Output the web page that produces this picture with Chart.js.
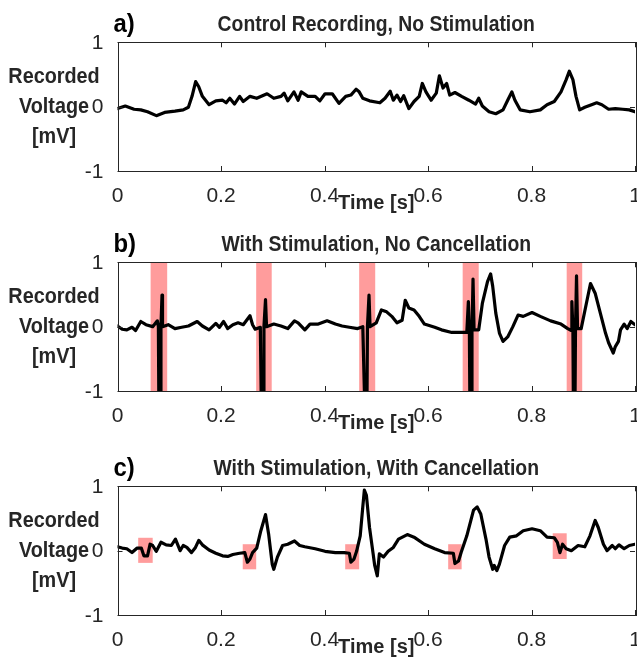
<!DOCTYPE html>
<html lang="en">
<head>
    <meta charset="UTF-8">
    <title>Stimulation artifact cancellation</title>
    <script src="https://cdn.jsdelivr.net/npm/chart.js"></script>
    <style>
        body { margin: 0; background: #fff; }
        .panel { position: absolute; left: 0; width: 637px; height: 220px; }
    </style>
</head>
<body>
    <div class="panel" style="top:0px"><canvas id="chartA"></canvas></div>
    <div class="panel" style="top:220px"><canvas id="chartB"></canvas></div>
    <div class="panel" style="top:443.7px"><canvas id="chartC"></canvas></div>

    <script>
        // axis ticks
        const xTicks = [0, 0.2, 0.4, 0.6, 0.8, 1];
        const yTicks = [-1, 0, 1];

        // a) control recording
        const tA = [0,0.015,0.032,0.045,0.058,0.075,0.091,0.111,0.127,0.137,
            0.144,0.151,0.157,0.164,0.177,0.190,0.203,0.210,0.217,0.226,
            0.236,0.243,0.256,0.269,0.289,0.302,0.316,0.322,0.329,0.341,
            0.349,0.355,0.368,0.382,0.391,0.401,0.415,0.428,0.441,0.451,
            0.461,0.467,0.474,0.487,0.507,0.517,0.527,0.533,0.540,0.547,
            0.553,0.563,0.573,0.583,0.589,0.596,0.606,0.616,0.622,0.629,
            0.636,0.642,0.652,0.665,0.679,0.692,0.698,0.705,0.718,0.731,
            0.745,0.754,0.762,0.768,0.778,0.797,0.817,0.830,0.844,0.857,
            0.867,0.873,0.880,0.886,0.893,0.903,0.916,0.926,0.936,0.949,
            0.962,0.976,0.989,1.000];
        const vA = [-0.03,0.01,-0.04,-0.05,-0.08,-0.14,-0.09,-0.07,-0.05,-0.01,
            0.16,0.39,0.31,0.16,0.03,0.09,0.10,0.06,0.13,0.04,
            0.16,0.08,0.16,0.13,0.20,0.13,0.16,0.21,0.09,0.23,
            0.10,0.23,0.16,0.16,0.09,0.20,0.20,0.05,0.16,0.18,
            0.27,0.23,0.13,0.09,0.06,0.13,0.24,0.10,0.18,0.08,
            0.17,-0.03,0.08,0.16,0.36,0.23,0.10,0.21,0.48,0.29,
            0.36,0.18,0.22,0.16,0.10,0.04,0.13,0.01,-0.08,-0.11,
            -0.05,0.10,0.23,0.10,-0.05,-0.08,-0.05,0.03,0.08,0.23,
            0.42,0.55,0.42,0.16,-0.05,-0.01,0.03,0.06,0.03,-0.04,
            -0.03,-0.04,-0.05,-0.08];

        // b) stimulation, no cancellation
        const tB = [0,0.009,0.018,0.028,0.035,0.045,0.055,0.068,0.077,0.079,
            0.080,0.083,0.084,0.086,0.087,0.098,0.111,0.124,0.137,0.154,
            0.164,0.177,0.190,0.197,0.205,0.213,0.223,0.233,0.243,0.256,
            0.261,0.266,0.276,0.278,0.282,0.283,0.286,0.288,0.302,0.316,
            0.329,0.342,0.349,0.362,0.372,0.388,0.405,0.421,0.434,0.448,
            0.464,0.474,0.478,0.482,0.483,0.486,0.488,0.500,0.510,0.520,
            0.530,0.540,0.550,0.556,0.563,0.573,0.583,0.593,0.613,0.626,
            0.646,0.665,0.675,0.678,0.680,0.681,0.684,0.685,0.687,0.689,
            0.698,0.705,0.715,0.721,0.725,0.731,0.738,0.745,0.754,0.764,
            0.774,0.784,0.801,0.817,0.837,0.857,0.870,0.877,0.878,0.880,
            0.881,0.884,0.885,0.887,0.889,0.896,0.906,0.914,0.923,0.933,
            0.943,0.949,0.958,0.962,0.968,0.972,0.979,0.985,0.992,1.000];
        const vB = [0.01,-0.04,-0.05,-0.01,-0.06,0.08,0.03,0.00,0.09,0.00,
            -1.3,-1.3,0.00,0.49,0.00,0.03,-0.03,-0.01,0.01,0.08,
            0.01,-0.05,0.05,-0.01,0.08,-0.03,0.03,0.06,0.03,0.17,
            0.03,-0.04,-0.01,-1.3,-1.3,0.00,0.42,0.00,0.04,0.01,
            -0.03,0.09,0.06,-0.05,0.04,0.04,0.09,0.04,0.01,-0.01,
            -0.03,0.00,-1.3,-1.3,0.00,0.49,0.00,0.06,0.26,0.23,
            0.16,0.06,0.10,0.41,0.29,0.26,0.16,0.04,-0.01,-0.05,
            -0.09,-0.09,-0.09,0.39,-0.09,-1.3,-1.3,-0.09,0.74,-0.05,
            -0.05,0.36,0.70,0.82,0.63,0.21,-0.10,-0.23,-0.16,0.00,
            0.18,0.16,0.22,0.16,0.09,0.04,-0.03,-0.06,0.39,-0.04,
            -1.3,-1.3,-0.04,0.79,-0.03,-0.03,0.36,0.67,0.52,0.21,
            -0.10,-0.25,-0.41,-0.31,-0.23,-0.05,0.04,-0.03,0.08,0.03];
        const stimStartB = [0.064, 0.268, 0.467, 0.667, 0.868];
        const stimEndB = [0.096, 0.298, 0.498, 0.698, 0.898];

        // c) stimulation, with cancellation
        const tC = [0,0.009,0.018,0.028,0.038,0.046,0.051,0.058,0.063,0.068,
            0.075,0.084,0.094,0.104,0.112,0.121,0.127,0.134,0.143,0.150,
            0.157,0.164,0.177,0.190,0.203,0.213,0.223,0.236,0.246,0.251,
            0.256,0.261,0.269,0.277,0.286,0.292,0.299,0.302,0.309,0.319,
            0.329,0.342,0.352,0.362,0.382,0.401,0.421,0.438,0.448,0.451,
            0.457,0.462,0.469,0.474,0.477,0.481,0.487,0.494,0.497,0.502,
            0.506,0.514,0.523,0.533,0.543,0.560,0.573,0.593,0.613,0.632,
            0.649,0.652,0.659,0.664,0.675,0.688,0.695,0.702,0.712,0.718,
            0.725,0.728,0.733,0.738,0.748,0.758,0.771,0.784,0.801,0.817,
            0.830,0.844,0.850,0.855,0.860,0.867,0.877,0.890,0.903,0.913,
            0.923,0.929,0.939,0.946,0.956,0.962,0.969,0.979,0.989,1.000];
        const vC = [0.06,0.04,0.03,-0.03,0.04,0.04,-0.08,-0.08,0.10,0.08,
            -0.01,0.13,0.09,0.08,0.18,0.00,0.08,0.05,-0.03,0.04,
            0.16,0.09,0.01,-0.04,-0.08,-0.09,-0.06,-0.04,-0.03,-0.18,
            -0.13,-0.03,0.04,0.31,0.56,0.26,-0.21,-0.29,-0.10,0.08,
            0.10,0.15,0.08,0.06,0.03,-0.01,-0.03,-0.03,-0.04,-0.18,
            -0.13,-0.01,0.23,0.68,0.94,0.86,0.36,-0.05,-0.23,-0.39,
            -0.05,-0.10,-0.01,0.05,0.18,0.25,0.21,0.10,0.03,-0.03,
            -0.04,-0.20,-0.16,-0.03,0.23,0.63,0.68,0.57,0.18,-0.10,
            -0.29,-0.23,-0.31,-0.21,0.08,0.21,0.23,0.31,0.34,0.31,
            0.21,0.20,0.13,-0.03,0.10,0.03,0.00,0.08,0.06,0.23,
            0.47,0.36,0.10,0.00,0.08,0.03,0.09,0.03,0.08,0.10];
        const boxX0C = [0.040, 0.242, 0.440, 0.639, 0.841];
        const boxX1C = [0.068, 0.268, 0.467, 0.665, 0.868];
        const boxY0C = [-0.19, -0.29, -0.29, -0.29, -0.13];
        const boxY1C = [0.20, 0.10, 0.10, 0.10, 0.27];

        const textColor = '#262626';
        const patchColor = '#ff9c9c';
        const fontFamily = "'Liberation Sans', Arial, sans-serif";

        // red patches behind the trace
        const patchPlugin = {
            id: 'patches',
            beforeDatasetsDraw(chart, args, opts) {
                if (!opts.x0) return;
                const {ctx, chartArea, scales} = chart;
                ctx.save();
                ctx.fillStyle = patchColor;
                for (let i = 0; i < opts.x0.length; i++) {
                    const l = scales.x.getPixelForValue(opts.x0[i]);
                    const r = scales.x.getPixelForValue(opts.x1[i]);
                    const top = opts.y1 ? scales.y.getPixelForValue(opts.y1[i]) : chartArea.top;
                    const bot = opts.y0 ? scales.y.getPixelForValue(opts.y0[i]) : chartArea.bottom;
                    ctx.fillRect(l, top, r - l, bot - top);
                }
                ctx.restore();
            }
        };

        // narrow-looking text: squeeze horizontally a little
        function narrowText(ctx, s, x, y, squeeze) {
            ctx.save();
            ctx.translate(x, y);
            ctx.scale(squeeze, 1);
            ctx.fillText(s, 0, 0);
            ctx.restore();
        }

        // matlab style box, inward ticks, titles and y label
        const framePlugin = {
            id: 'frame',
            afterDraw(chart, args, opts) {
                const {ctx, chartArea, scales} = chart;
                const {left, right, top, bottom} = chartArea;
                ctx.save();
                ctx.strokeStyle = textColor;
                ctx.lineWidth = 1;
                ctx.strokeRect(Math.round(left) + 0.5, Math.round(top) + 0.5,
                    Math.round(right - left), Math.round(bottom - top));
                ctx.beginPath();
                xTicks.forEach(v => {
                    const px = Math.round(scales.x.getPixelForValue(v)) + 0.5;
                    ctx.moveTo(px, bottom); ctx.lineTo(px, bottom - 5);
                    ctx.moveTo(px, top); ctx.lineTo(px, top + 5);
                });
                yTicks.forEach(v => {
                    const py = Math.round(scales.y.getPixelForValue(v)) + 0.5;
                    ctx.moveTo(left, py); ctx.lineTo(left + 5, py);
                    ctx.moveTo(right, py); ctx.lineTo(right - 5, py);
                });
                ctx.stroke();

                ctx.textBaseline = 'alphabetic';
                ctx.font = 'bold 26px ' + fontFamily;
                ctx.textAlign = 'left';
                ctx.fillStyle = '#000';
                narrowText(ctx, opts.letter, left - 4, top - 10, 0.92);
                ctx.fillStyle = textColor;
                ctx.font = 'bold 22px ' + fontFamily;
                ctx.textAlign = 'center';
                narrowText(ctx, opts.title, (left + right) / 2, top - 11, 0.88);

                const zero = scales.y.getPixelForValue(0);
                ctx.textBaseline = 'middle';
                ['Recorded', 'Voltage', '[mV]'].forEach((s, i) => {
                    narrowText(ctx, s, 54, zero + (i - 1) * 30, 0.9);
                });
                ctx.restore();
            }
        };

        function makeChart(id, times, values, letter, title, patches) {
            const ctx = document.getElementById(id).getContext('2d');
            return new Chart(ctx, {
                type: 'line',
                data: {
                    datasets: [{
                        data: times.map((t, i) => ({x: t, y: values[i]})),
                        borderColor: '#000',
                        borderWidth: 3.2,
                        pointRadius: 0,
                        tension: 0,
                        borderJoinStyle: 'round',
                        borderCapStyle: 'round',
                        clip: 0
                    }]
                },
                options: {
                    responsive: true,
                    maintainAspectRatio: false,
                    animation: false,
                    layout: { padding: { top: 42.3, right: 2, left: 0, bottom: 0 } },
                    plugins: {
                        legend: { display: false },
                        tooltip: { enabled: false },
                        patches: patches || {},
                        frame: { letter: letter, title: title }
                    },
                    scales: {
                        x: {
                            type: 'linear',
                            min: 0, max: 1,
                            afterBuildTicks: axis => { axis.ticks = xTicks.map(v => ({value: v})); },
                            afterFit: scale => { scale.height = 49; scale.paddingLeft = 0; scale.paddingRight = 0; },
                            grid: { display: false },
                            border: { display: false },
                            ticks: {
                                color: textColor,
                                font: { family: fontFamily, size: 21 },
                                padding: 5,
                                maxRotation: 0,
                                callback: v => String(v)
                            },
                            title: {
                                display: true,
                                text: 'Time [s]',
                                color: textColor,
                                font: { family: fontFamily, size: 20, weight: 'bold' },
                                padding: { top: 0, bottom: 5 }
                            }
                        },
                        y: {
                            min: -1, max: 1,
                            afterBuildTicks: axis => { axis.ticks = yTicks.map(v => ({value: v})); },
                            afterFit: scale => { scale.width = 117.5; scale.paddingTop = 0; scale.paddingBottom = 0; },
                            grid: { display: false },
                            border: { display: false },
                            ticks: {
                                color: textColor,
                                font: { family: fontFamily, size: 21 },
                                padding: 6,
                                labelOffset: 1,
                                callback: v => String(v)
                            }
                        }
                    }
                },
                plugins: [patchPlugin, framePlugin]
            });
        }

        makeChart('chartA', tA, vA, 'a)', 'Control Recording, No Stimulation');
        makeChart('chartB', tB, vB, 'b)', 'With Stimulation, No Cancellation',
            { x0: stimStartB, x1: stimEndB });
        makeChart('chartC', tC, vC, 'c)', 'With Stimulation, With Cancellation',
            { x0: boxX0C, x1: boxX1C, y0: boxY0C, y1: boxY1C });
    </script>
</body>
</html>
